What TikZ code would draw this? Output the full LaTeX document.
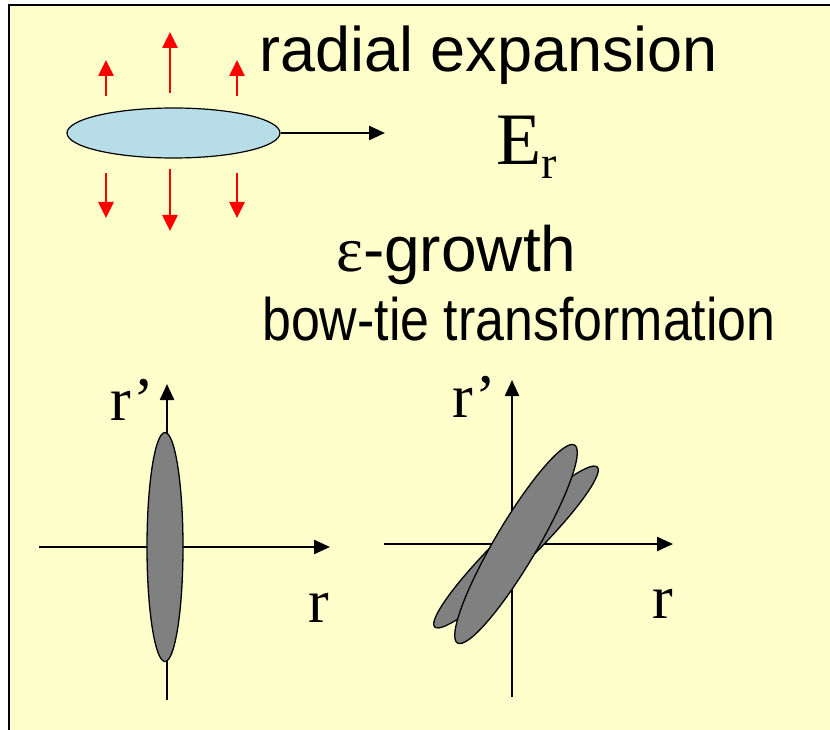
\documentclass[tikz,border=0pt]{standalone}
\usepackage{fontspec}
\setmainfont{Liberation Sans}
\newfontfamily\serifx{Liberation Serif}
\usetikzlibrary{arrows.meta,shapes.geometric}
\definecolor{bgyel}{HTML}{FFFFCC}
\definecolor{cloudblue}{HTML}{B7DEE8}
\definecolor{blobgray}{HTML}{808080}
\begin{document}
\begin{tikzpicture}[x=1pt,y=-1pt,
  axis/.style={line width=2.4pt,-{Triangle[length=16pt,width=14pt]}},
  redarr/.style={red,line width=2.6pt,-{Triangle[length=16pt,width=15pt]}},
  blobel/.style={ellipse,draw=black,line width=1.3pt,fill=blobgray,inner sep=0pt},
  lbl/.style={inner sep=0pt,anchor=base west},
  serl/.style={font=\serifx\fontsize{62}{62}\selectfont},
  ]
\useasboundingbox (0,0) rectangle (830,730);
\fill[bgyel] (9,5) rectangle (830,730);
\draw[line width=2.5pt] (840,730.8) -- (9,730.8) -- (9,5) -- (840,5);

% top: beam ellipse and arrows
\node[ellipse,draw=black,line width=1.2pt,fill=cloudblue,minimum width=213pt,minimum height=50pt,inner sep=0pt] (cloud) at (173.5,133) {};
\coordinate (ertip) at (385,133);
\draw[line width=2.5pt,-{Triangle[length=16pt,width=14pt]}] (cloud.east) -- (ertip);

\coordinate (u1s) at (106,96);  \coordinate (u1t) at (106,60);
\coordinate (u2s) at (170,93);  \coordinate (u2t) at (170,32);
\coordinate (u3s) at (237,96);  \coordinate (u3t) at (237,60);
\coordinate (d1s) at (106,173); \coordinate (d1t) at (106,218);
\coordinate (d2s) at (170,169); \coordinate (d2t) at (170,231);
\coordinate (d3s) at (237,173); \coordinate (d3t) at (237,218);
\draw[redarr] (u1s) -- (u1t);
\draw[redarr] (u2s) -- (u2t);
\draw[redarr] (u3s) -- (u3t);
\draw[redarr] (d1s) -- (d1t);
\draw[redarr] (d2s) -- (d2t);
\draw[redarr] (d3s) -- (d3t);

% texts
\node[lbl,font=\fontsize{63}{63}\selectfont] (title) at (259,72) {radial expansion};
\node[lbl,font=\serifx\fontsize{74}{74}\selectfont] (er) at (496,165) {E\raisebox{-14pt}{\fontsize{46}{46}\selectfont r}};
\node[lbl,font=\fontsize{64}{64}\selectfont] (eps) at (336,272) {{\serifx ε}-growth};
\node[lbl,font=\fontsize{60}{60}\selectfont] (bowtie) at (262,340) {\scalebox{0.865}[1]{bow-tie transformation}};

% left phase space
\coordinate (lx0) at (39,547);  \coordinate (lx1) at (330,547);
\coordinate (ly0) at (167,700); \coordinate (ly1) at (167,384);
\draw[axis] (lx0) -- (lx1);
\draw[axis] (ly0) -- (ly1);
\node[blobel,minimum width=36pt,minimum height=229pt] (lblob) at (165,547) {};
\node[lbl,serl] (lrp) at (110,420) {r’};
\node[lbl,serl] (lr) at (308,622) {r};

% right phase space
\coordinate (rx0) at (384,544); \coordinate (rx1) at (673,544);
\coordinate (ry0) at (512,697); \coordinate (ry1) at (512,380);
\draw[axis] (rx0) -- (rx1);
\draw[axis] (ry0) -- (ry1);
\node[blobel,minimum width=228pt,minimum height=36pt,rotate=44.5] (rblobb) at (516,547) {};
\node[blobel,minimum width=230pt,minimum height=42pt,rotate=59.4] (rbloba) at (516,544) {};
\node[lbl,serl] (rrp) at (452,417) {r’};
\node[lbl,serl] (rr) at (652,618) {r};
\end{tikzpicture}
\end{document}
